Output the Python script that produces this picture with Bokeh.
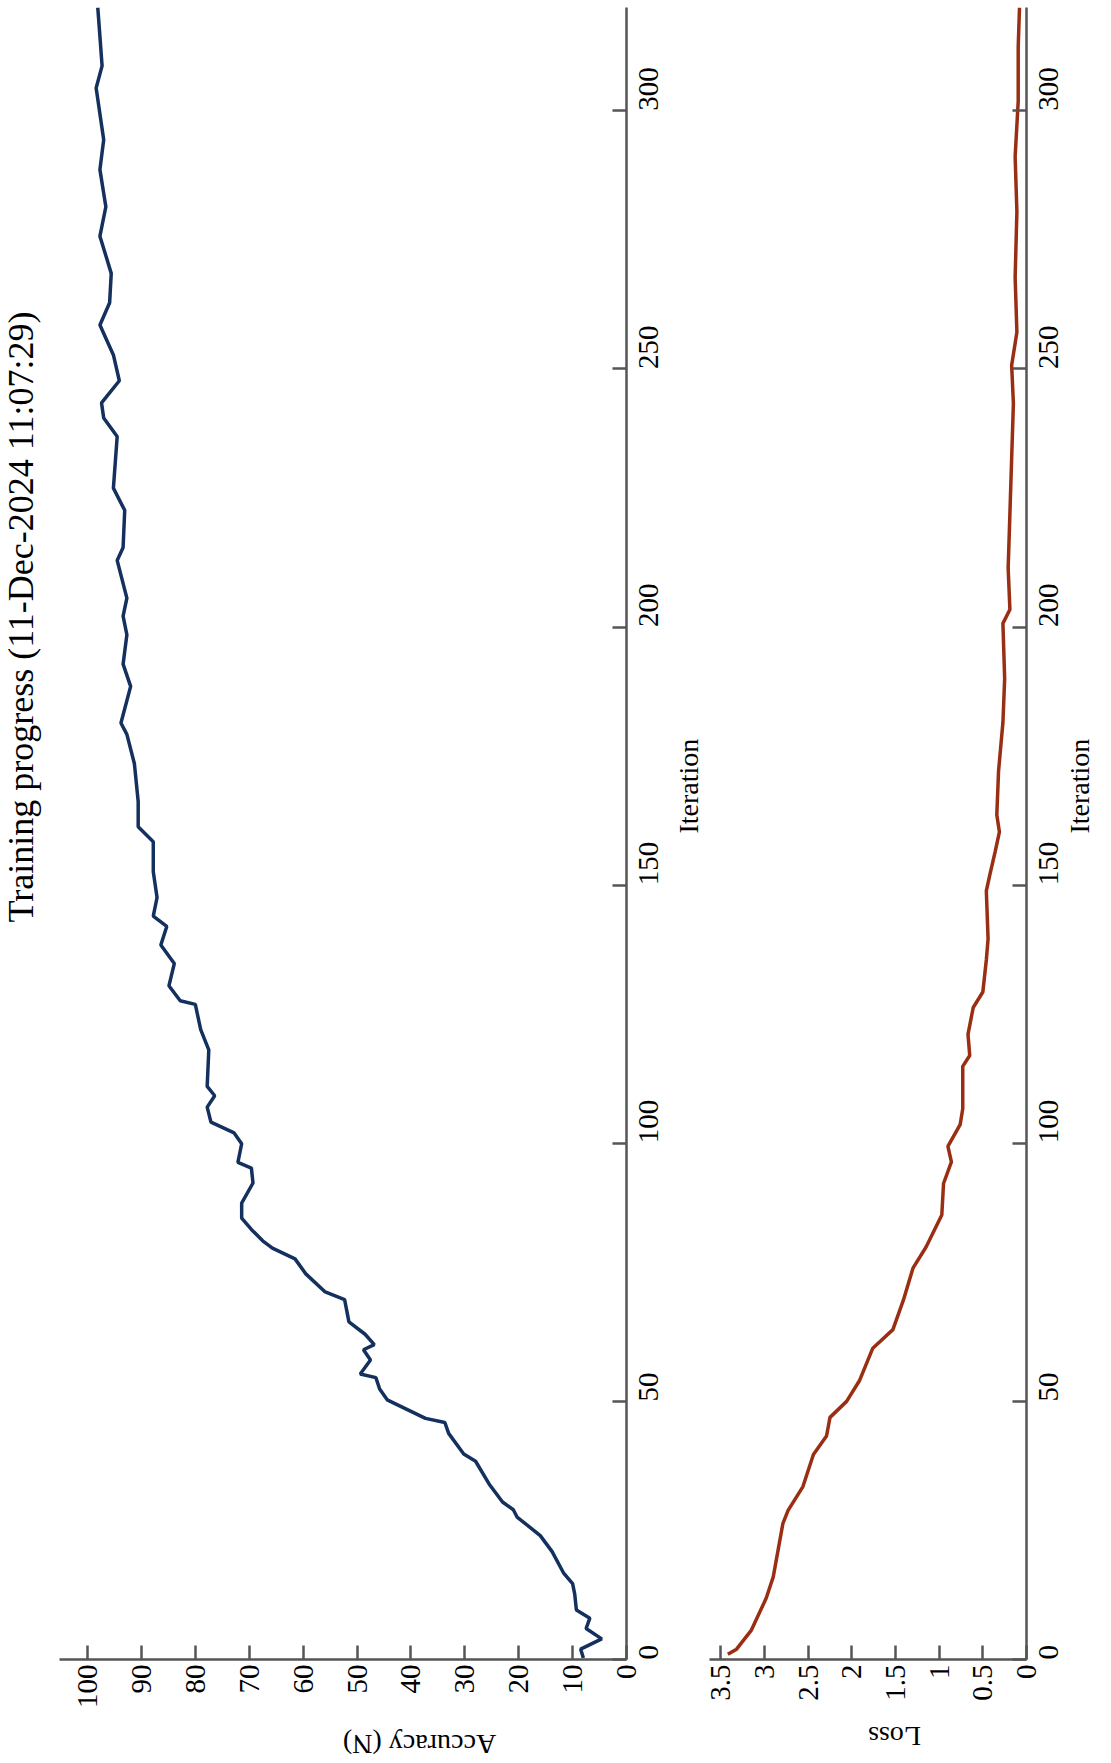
import math
from bokeh.plotting import figure
from bokeh.models import Range1d, FixedTicker, CustomJSTickFormatter, Title
from bokeh.layouts import row
from bokeh.embed import file_html
from bokeh.resources import INLINE

# ---------------- data ----------------
title_text = "Training progress (11-Dec-2024  11:07:29)"

acc_iter = [0.3, 2, 4, 6, 8, 9.6, 12.6, 14.7, 16.8, 20.9, 24, 27.6, 29, 30.5, 34,
            38.4, 39.8, 43.8, 45.9, 46.7, 50.3, 52.4, 54.6, 55.3, 58, 60, 61, 63,
            65.4, 69.7, 71.2, 74.7, 77.6, 79.7, 81.1, 83.3, 85.5, 88.4, 92.3, 95.2,
            96.3, 99.9, 102, 104.1, 107, 109.2, 111, 118.1, 122, 126.9, 127.6, 130.5,
            134.8, 138.4, 142, 144, 147.6, 152.6, 158.4, 161.3, 166.2, 173.5, 179.2,
            181.4, 188.5, 192.8, 198.5, 202.1, 205.6, 212.9, 215.4, 222.6, 226.9,
            236.9, 240.5, 243.4, 247.7, 252.7, 258.5, 262.8, 268.5, 275.7, 281.4,
            288.6, 294.4, 304.4, 308.7, 314.4, 320]
acc_vals = [8, 8.5, 4.6, 7.5, 6.8, 9.3, 9.6, 10, 11.7, 13.8, 16, 20.3, 21, 23, 25.5,
            28, 30.2, 33, 33.7, 37.3, 44.4, 45.8, 46.5, 49.4, 47.5, 48.8, 46.8, 48.5,
            51.5, 52.3, 55.9, 59.5, 61.5, 65.7, 67.5, 69.6, 71.4, 71.4, 69.3, 69.6,
            72.1, 71.4, 72.8, 77.1, 77.8, 76.4, 77.8, 77.5, 79, 80, 82.8, 84.9,
            83.9, 86.4, 85.3, 87.8, 87.1, 87.8, 87.8, 90.6, 90.6, 91.3, 92.7,
            93.8, 92, 93.4, 92.7, 93.4, 92.7, 94.5, 93.4, 93.1, 95.2,
            94.5, 97.0, 97.4, 94.1, 95.2, 97.7, 95.9, 95.6, 97.7, 96.6,
            97.7, 97.0, 98.4, 97.3, 97.7, 98.1]

loss_iter = [1, 2, 5.7, 11.9, 16, 26.3, 28.9, 33.5, 39.7, 43.3, 46.9, 50, 54.1, 60.3,
             63.9, 69.6, 75.8, 79.9, 86.1, 92.2, 96.4, 99.4, 103.6, 106.7, 114.9, 117,
             121.1, 126.3, 129.3, 135.5, 139.6, 148.9, 152, 156.4, 160.3, 163.6, 172.1,
             181.5, 190, 200.7, 203.4, 211.4, 222, 232.7, 243.3, 250.7, 257.1, 267.7,
             280.5, 291.1, 301.8, 312.4, 320]
loss_vals = [3.42, 3.32, 3.15, 2.98, 2.9, 2.79, 2.73, 2.56, 2.44, 2.29, 2.25, 2.06, 1.91,
             1.76, 1.53, 1.41, 1.30, 1.15, 0.97, 0.95, 0.86, 0.90, 0.76, 0.73, 0.73, 0.65,
             0.67, 0.61, 0.50, 0.46, 0.44, 0.46, 0.42, 0.36, 0.31, 0.34, 0.32,
             0.27, 0.25, 0.27, 0.19, 0.21, 0.19, 0.17, 0.15, 0.17, 0.11, 0.13,
             0.11, 0.13, 0.095, 0.095, 0.08]

acc_ticks = [0, 10, 20, 30, 40, 50, 60, 70, 80, 90, 100]
loss_ticks = [0, 0.5, 1, 1.5, 2, 2.5, 3, 3.5]
iter_ticks = [0, 50, 100, 150, 200, 250, 300]

# ---------------- styling ----------------
FONT = "Liberation Serif"
AXC = "#555555"
FRAME_H = 1652


def make(x_range, xticks, xlabel, fw, ml, mr, label_standoff):
    p = figure(frame_width=fw, frame_height=FRAME_H, x_range=x_range,
               y_range=Range1d(0, 320), x_axis_location="below",
               y_axis_location="right", output_backend="svg",
               toolbar_location=None, min_border_left=ml, min_border_right=mr,
               min_border_top=7, min_border_bottom=88)
    p.grid.visible = False
    p.outline_line_color = None
    p.background_fill_color = "white"
    p.border_fill_color = None
    fmt = CustomJSTickFormatter(code="return String(tick);")
    for ax in (p.xaxis[0], p.yaxis[0]):
        ax.formatter = fmt
        ax.axis_line_color = AXC
        ax.axis_line_width = 2.5
        ax.major_tick_line_color = AXC
        ax.major_tick_line_width = 2.5
        ax.major_tick_in = 14
        ax.major_tick_out = 0
        ax.minor_tick_line_color = None
        ax.major_label_text_font = FONT
        ax.major_label_text_font_size = "29px"
        ax.major_label_text_color = "black"
        ax.major_label_orientation = math.pi / 2
        ax.axis_label_text_font = FONT
        ax.axis_label_text_font_size = "28px"
        ax.axis_label_text_font_style = "normal"
        ax.axis_label_text_color = "black"
    p.xaxis.ticker = FixedTicker(ticks=xticks)
    p.yaxis.ticker = FixedTicker(ticks=iter_ticks)
    p.xaxis.axis_label = xlabel
    p.xaxis.axis_label_orientation = math.pi
    p.xaxis.axis_label_standoff = 33
    p.yaxis.axis_label = "Iteration"
    p.yaxis.axis_label_orientation = math.pi / 2
    p.yaxis.major_label_standoff = 22
    p.yaxis.axis_label_standoff = label_standoff
    return p


# accuracy panel
p1 = make(Range1d(105.2, 0), acc_ticks, "Accuracy (N)", 567, 90, 110, 18)
p1.line(acc_vals, acc_iter, line_color="#14305e", line_width=3.5)
p1.add_layout(Title(text=title_text, align="left", offset=737, standoff=38,
                    text_font=FONT, text_font_size="36px",
                    text_font_style="normal", text_color="black"), "left")
p1.styles = {"margin-left": "-31px"}

# loss panel
p2 = make(Range1d(3.63, 0), loss_ticks, "Loss", 317, 10, 110, 9)
p2.line(loss_vals, loss_iter, line_color="#9a2e12", line_width=3.5)
p2.styles = {"margin-left": "-37px", "margin-right": "-41px"}

layout = row(p1, p2, styles={"overflow": "hidden"})
open("out.html", "w").write(file_html(layout, INLINE))
